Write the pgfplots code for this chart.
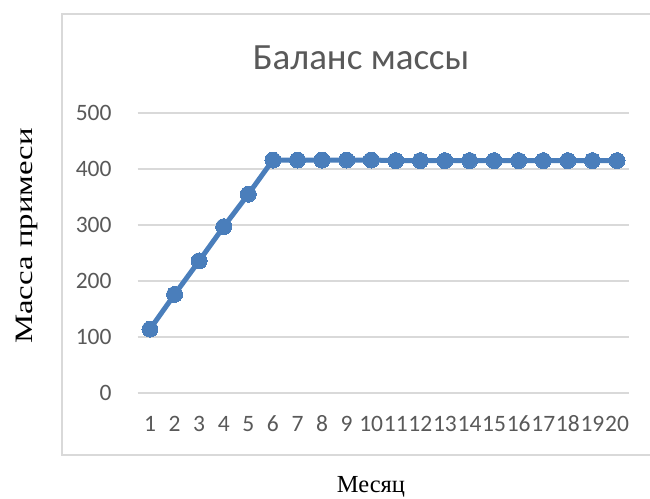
\documentclass[border=0pt]{standalone}
\usepackage{pgfplots}
\pgfplotsset{compat=1.18}
\usepackage{fontspec}
\setmainfont{Liberation Serif}
\newfontfamily\carlito{Carlito}
\newfontfamily\tnr{Liberation Serif}
\definecolor{gridgray}{HTML}{D9D9D9}
\definecolor{txtgray}{HTML}{595959}
\definecolor{serblue}{HTML}{4A7EBB}

\begin{document}
\begin{tikzpicture}[x=1pt,y=1pt]
  \useasboundingbox (0,0) rectangle (650,498);
  % chart area frame
  \draw[gridgray, line width=1.3pt] (62,43) rectangle (672,484);
  % title
  \node[anchor=base, inner sep=0pt, text=txtgray, font=\carlito\fontsize{37}{40}\selectfont]
    at (361,428.7) {Баланс массы};
  % axis titles
  \node[rotate=90, anchor=center, inner sep=0pt, font=\tnr\fontsize{25}{30}\selectfont]
    at (27,262) {\scalebox{1.31}[1]{Масса примеси}};
  \node[anchor=base, inner sep=0pt, font=\tnr\fontsize{24.5}{28}\selectfont]
    at (371,6) {Месяц};

  \begin{axis}[
    at={(137.7pt,105pt)}, anchor=south west,
    scale only axis, width=491.6pt, height=280pt,
    xmin=0.5, xmax=20.5, ymin=0, ymax=500,
    xtick={1,...,20}, ytick={0,100,...,500},
    axis line style={draw=none},
    major tick length=0pt,
    ymajorgrids,
    grid style={gridgray, line width=1.3pt},
    clip=false,
    /pgf/number format/assume math mode=true,
    tick label style={text=txtgray, font=\carlito\fontsize{23.5}{26}\selectfont},
    yticklabel style={anchor=east, inner sep=0pt, xshift=-26pt},
    xticklabel style={anchor=base, inner sep=0pt, yshift=-38pt},
  ]
    \addplot[serblue, line width=5pt, mark=*, mark size=8pt,
             mark options={fill=serblue, draw=serblue, line width=0pt}]
      coordinates {
        (1,114) (2,176) (3,236) (4,297) (5,355)
        (6,416) (7,416) (8,416) (9,416) (10,416)
        (11,415) (12,415) (13,415) (14,415) (15,415)
        (16,415) (17,415) (18,415) (19,415) (20,415)
      };
  \end{axis}
\end{tikzpicture}
\end{document}
